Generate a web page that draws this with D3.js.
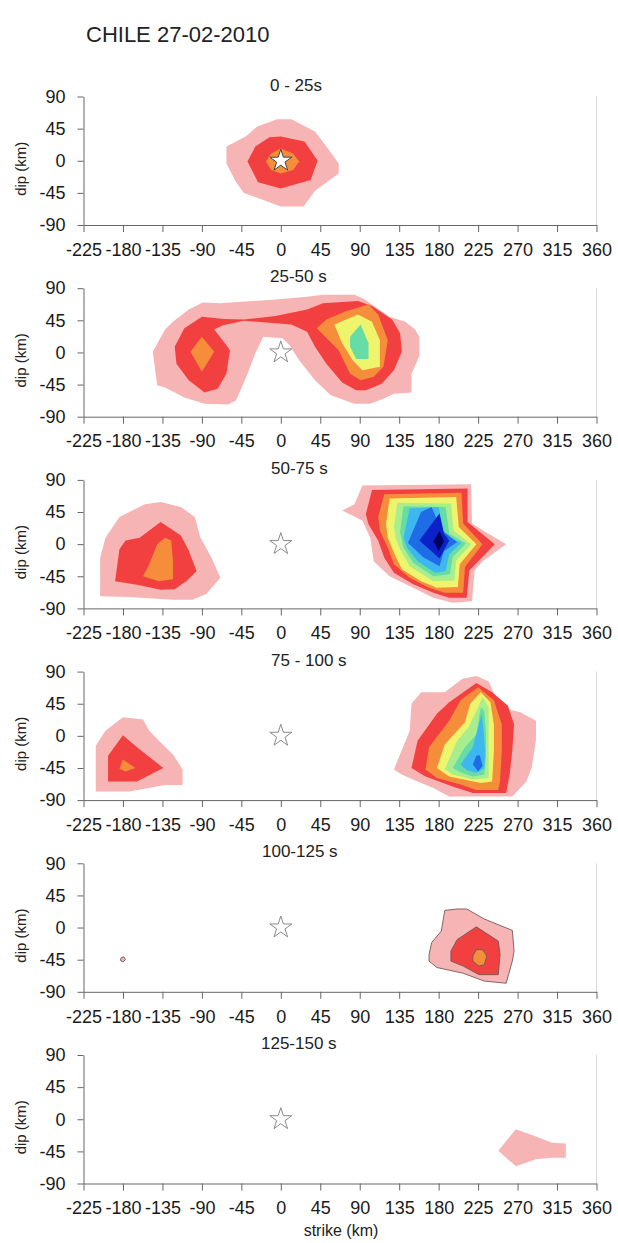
<!DOCTYPE html>
<html><head><meta charset="utf-8">
<script src="https://cdn.jsdelivr.net/npm/d3@7"></script>
<style>
body{margin:0;background:#fff;}
svg{display:block;font-family:"Liberation Sans",Arial,Helvetica,sans-serif;}
</style></head>
<body><svg id="chart" width="618" height="1243"></svg>
<script>
// ---------- data ----------
const chartTitle = "CHILE 27-02-2010";
const strikeTicks = [-225,-180,-135,-90,-45,0,45,90,135,180,225,270,315,360];
const dipTicks = [-90,-45,0,45,90];
const panelTitles = ["0 - 25s","25-50 s","50-75 s","75 - 100 s","100-125 s","125-150 s"];
const hypocenter = [0,0];
// slip contour levels (lowest to highest)
const levelColors = ["#f7b4b4","#f23f3f","#f68d3a","#eef46c","#a8ee8e","#66dca6","#3eb6f0","#1e6de6","#0a22c8","#00005e"];

// contour polygons: [level, [[strike, dip], ...]]
const contours0to25 = [
  [0, [[-4,58],[12,58],[39,41],[52,20],[66,-4],[66,-18],[39,-42],[26,-64],[0,-64],[-42,-45],[-51,-30],[-62,-4],[-62,20],[-40,34],[-27,48]]],
  [1, [[-13,33],[0,34],[27,27],[42,0],[34,-27],[0,-39],[-26,-30],[-38,-1],[-29,20]]],
  [2, [[0,17],[14,10],[21,-1],[14,-13],[0,-18],[-11,-13],[-17,-1],[-11,10]]]
];
const contours25to50 = [
  [0, [[-146,1],[-132,32],[-123,43],[-105,60],[-89,70],[-69,69],[-33,72],[-6,74],[30,78],[48,81],[84,81],[95,75],[124,50],[142,43],[153,32],[158,22],[158,-5],[149,-30],[149,-56],[129,-58],[117,-65],[102,-72],[84,-72],[57,-60],[39,-39],[21,-11],[10,10],[2,20],[-20,22],[-29,-1],[-38,-30],[-45,-50],[-51,-67],[-60,-73],[-87,-72],[-110,-63],[-132,-49],[-141,-46]]],
  [1, [[-119,-16],[-121,8],[-110,34],[-90,50],[-65,47],[-42,46],[-6,51],[30,60],[48,69],[88,72],[104,65],[127,46],[136,27],[138,1],[129,-25],[115,-44],[97,-53],[86,-53],[70,-42],[52,-16],[39,8],[30,29],[12,39],[-6,41],[-42,44.5],[-66,38],[-76,32],[-62,10],[-58,3],[-62,-30],[-72,-51],[-87,-56],[-105,-39]]],
  [2, [[-90,22],[-76,1],[-90,-27],[-103,1]]],
  [2, [[41,34],[52,46],[75,58],[100,67],[111,53],[122,17],[117,-20],[106,-34],[91,-39],[79,-30],[66,3]]],
  [3, [[61,39],[88,53],[104,43],[113,17],[113,-20],[93,-25],[82,-11],[70,13]]],
  [5, [[79,22],[91,39],[100,13],[100,-9],[86,-9],[79,8]]]
];
const contours50to75 = [
  [0, [[-206,-73],[-206,-19],[-200,9],[-184,38],[-155,56],[-137,59],[-114,52],[-98,38],[-92,10],[-79,-19],[-69,-47],[-85,-70],[-101,-78],[-123,-78],[-173,-74]]],
  [1, [[-189,-52],[-184,-7],[-177,5],[-161,9],[-137,31],[-114,12],[-105,-9],[-96,-38],[-108,-52],[-121,-63],[-137,-64],[-164,-57]]],
  [2, [[-150,-28],[-141,0],[-132,9],[-125,5],[-123,-23],[-123,-49],[-139,-52],[-157,-45]]],
  [0, [[70,47],[84,56],[93,82],[217,84],[218,29],[232,18],[257,0],[230,-24],[221,-37],[218,-80],[196,-82],[174,-75],[151,-61],[124,-45],[106,-24],[102,9],[93,33]]],
  [1, [[97,42],[104,76],[213,78],[213,31],[244,0],[215,-37],[212,-75],[192,-75],[174,-68],[151,-56],[129,-40],[118,-19],[111,5],[100,28]]],
  [2, [[111,38],[118,70],[206,72],[208,29],[230,0],[210,-32],[208,-68],[187,-68],[169,-61],[147,-47],[129,-28],[122,-5],[113,19]]],
  [3, [[120,28],[124,64],[200,66],[203,24],[223,0],[204,-28],[202,-60],[178,-61],[160,-52],[138,-35],[129,-12],[122,9]]],
  [4, [[129,24],[133,58],[194,57],[197,19],[217,0],[200,-23],[198,-51],[174,-52],[147,-31],[136,-7],[131,9]]],
  [5, [[136,17],[140,53],[188,52],[192,15],[211,1],[196,-18],[193,-42],[174,-45],[151,-26],[140,-5]]],
  [6, [[140,9],[147,50],[180,52],[187,12],[206,2],[192,-14],[188,-38],[176,-40],[156,-24],[144,-5]]],
  [7, [[145,2],[160,45],[172,52],[183,20],[201,3],[186,-10],[181,-31],[162,-18]]],
  [8, [[158,5],[181,43],[186,15],[192,5],[181,-20]]],
  [9, [[174,4],[181,18],[186,4],[180,-10]]]
];
const contours75to100 = [
  [0, [[-211,-78],[-211,-14],[-200,7],[-180,26],[-157,23],[-150,7],[-139,-7],[-123,-26],[-112,-47],[-112,-69],[-132,-69],[-173,-78]]],
  [1, [[-197,-64],[-197,-28],[-180,1],[-164,-16],[-134,-45],[-164,-64]]],
  [2, [[-184,-46],[-180,-33],[-166,-45],[-177,-50]]],
  [0, [[129,-47],[147,7],[149,45],[160,61],[187,61],[207,80],[223,84],[237,76],[250,40],[273,33],[291,21],[291,-5],[286,-45],[280,-64],[264,-85],[192,-85],[174,-73],[156,-64],[138,-54]]],
  [1, [[149,-45],[156,-7],[178,31],[192,47],[223,74],[241,61],[259,42],[266,16],[264,-20],[261,-54],[257,-80],[219,-80],[196,-71],[165,-57]]],
  [2, [[165,-47],[169,-16],[192,21],[205,50],[225,68],[243,50],[252,16],[252,-21],[250,-64],[248,-76],[223,-76],[205,-68],[178,-59]]],
  [3, [[178,-45],[187,-12],[210,19],[216,45],[228,61],[239,47],[243,16],[243,-21],[241,-64],[228,-66],[192,-57]]],
  [4, [[187,-47],[201,-7],[214,12],[225,40],[230,54],[237,40],[237,-21],[237,-59],[219,-61],[196,-54]]],
  [5, [[196,-45],[210,-16],[223,2],[228,40],[232,35],[234,2],[234,-30],[232,-54],[219,-57],[205,-51]]],
  [6, [[205,-40],[219,-16],[225,12],[229,31],[231,10],[233,-21],[232,-45],[223,-52],[212,-48]]],
  [7, [[219,-40],[223,-28],[227,-27],[230,-42],[225,-50]]]
];
const contours100to125 = [
  [0, [[-182,-42],[-179,-41],[-177,-45],[-180,-48],[-183,-46]]],
  [0, [[169,-38],[172,-21],[183,-5],[187,24],[201,26],[212,26],[232,12],[264,-4],[266,-33],[264,-47],[257,-78],[232,-75],[208,-64],[178,-56],[169,-47]]],
  [1, [[194,-33],[201,-17],[223,1],[248,-19],[250,-38],[248,-66],[226,-66],[208,-54],[194,-47]]],
  [2, [[219,-40],[223,-31],[230,-31],[235,-40],[232,-52],[226,-54],[219,-47]]]
];
const contours125to150 = [
  [0, [[248,-44],[268,-14],[291,-24],[309,-33],[325,-34],[325,-54],[309,-54],[291,-56],[268,-66]]]
];
const panelContours = [contours0to25, contours25to50, contours50to75, contours75to100, contours100to125, contours125to150];

// ---------- layout ----------
const plotLeft = 83.5, plotRight = 596.5;
const firstTop = 96.5, panelStep = 191.7, plotH = 128.5;
const titleXs = [270, 270, 271, 271, 262, 261];
const outlinedPanels = [false,false,false,false,true,false];

const svg = d3.select("#chart");
const x = d3.scaleLinear().domain([-225,360]).range([plotLeft, plotRight]);
const fmt = d => String(d);

svg.append("text").attr("x",86).attr("y",41.7).attr("font-size",22).attr("fill","#222").text(chartTitle);

panelContours.forEach((polys, i) => {
  const top = firstTop + i*panelStep;
  const y = d3.scaleLinear().domain([-90,90]).range([top+plotH, top]);
  const g = svg.append("g");
  const line = d3.line().x(d=>x(d[0])).y(d=>y(d[1])).curve(d3.curveLinearClosed);
  const sorted = polys.slice().sort((a,b)=>a[0]-b[0]);
  g.selectAll("path.c").data(sorted).enter().append("path")
    .attr("class","c")
    .attr("d", d=>line(d[1]))
    .attr("fill", d=>levelColors[d[0]])
    .attr("stroke", outlinedPanels[i] ? "#6e5a5a" : "none")
    .attr("stroke-width", 0.9);

  // hypocenter star
  g.append("path")
    .attr("d", d3.symbol(d3.symbolStar).size(150)())
    .attr("transform", `translate(${x(hypocenter[0])},${y(hypocenter[1])})`)
    .attr("fill","#fff")
    .attr("stroke", i===0 ? "#444" : "#8a8a8a")
    .attr("stroke-width", 1);

  // right frame
  g.append("line").attr("x1",plotRight).attr("x2",plotRight).attr("y1",top).attr("y2",top+plotH)
    .attr("stroke","#d8d8d8").attr("stroke-width",1);

  const ya = g.append("g").attr("transform",`translate(${plotLeft},0)`)
    .call(d3.axisLeft(y).tickValues(dipTicks).tickSize(6).tickSizeOuter(0).tickPadding(12).tickFormat(fmt));
  const xa = g.append("g").attr("transform",`translate(0,${top+plotH})`)
    .call(d3.axisBottom(x).tickValues(strikeTicks).tickSize(7).tickSizeOuter(0).tickPadding(11).tickFormat(fmt));
  [ya, xa].forEach(a => {
    a.selectAll("path,line").attr("stroke","#666");
    a.selectAll("text").attr("font-size",18).attr("fill","#1a1a1a").attr("font-family","Liberation Sans, Arial, sans-serif");
  });

  g.append("text").attr("x", titleXs[i]).attr("y", top-6).attr("font-size",17).attr("fill","#222").text(panelTitles[i]);

  g.append("text").attr("transform",`translate(26,${top+plotH/2+8}) rotate(-90)`)
    .attr("text-anchor","middle").attr("font-size",15).attr("fill","#222").text("dip (km)");
});

svg.append("text").attr("x",341).attr("y",1236).attr("text-anchor","middle").attr("font-size",16).attr("fill","#222").text("strike (km)");
</script></body></html>
